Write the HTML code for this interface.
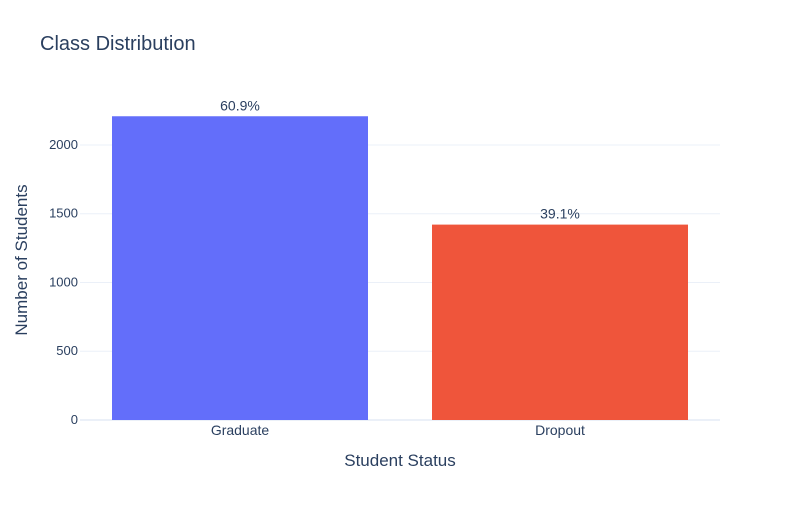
<!DOCTYPE html>
<html><head><meta charset="utf-8"><style>
body{margin:0;background:#fff;font-family:"Liberation Sans",Arial,sans-serif}
svg text{font-family:"Liberation Sans",Arial,sans-serif;fill:#2a3f5f}
</style></head><body>
<svg id="chart" width="800" height="500">
<rect width="800" height="500" fill="#fff"/>
<text x="40" y="50" font-size="20">Class Distribution</text>
<g id="grid"></g><g id="bars"></g><g id="ticks"></g>
<text x="400" y="466" font-size="17" text-anchor="middle">Student Status</text>
<text transform="translate(27,260) rotate(-90)" font-size="17" text-anchor="middle">Number of Students</text>
</svg>
<script>
const categories=["Graduate","Dropout"];
const counts=[2209,1421];
const labels=["60.9%","39.1%"];
const colors=["#636efa","#ef553b"];
const yTicks=[0,500,1000,1500,2000];
const NS="http://www.w3.org/2000/svg";
const x0=80,x1=720,y0=420,y1=100;
const yMax=Math.max(...counts)*1.0535;
const ys=v=>y0-(v/yMax)*(y0-y1);
const band=(x1-x0)/categories.length;
function mk(t,a,p){const e=document.createElementNS(NS,t);for(const k in a)e.setAttribute(k,a[k]);p.appendChild(e);return e;}
const grid=document.getElementById('grid'),bars=document.getElementById('bars'),ticks=document.getElementById('ticks');
yTicks.forEach(v=>{
const l=mk('line',{x1:x0,x2:x1,y1:ys(v),y2:ys(v),stroke:v===0?'#ebf0f8':'#ebf0f8','stroke-width':v===0?2:1},grid);


const t=mk('text',{x:x0-2,y:ys(v)+4,'font-size':13,'text-anchor':'end'},ticks);t.textContent=v;


});
categories.forEach((c,i)=>{
const cx=x0+band*(i+0.5),w=band*0.8;
const r=mk('rect',{x:cx-w/2,y:ys(counts[i]),width:w,height:y0-ys(counts[i]),fill:colors[i]},bars);


const lt=mk('text',{x:cx,y:ys(counts[i])-6,'font-size':14,'text-anchor':'middle'},bars);lt.textContent=labels[i];


const xt=mk('text',{x:cx,y:y0+15,'font-size':14,'text-anchor':'middle'},ticks);xt.textContent=c;


});
</script>
</body></html>
